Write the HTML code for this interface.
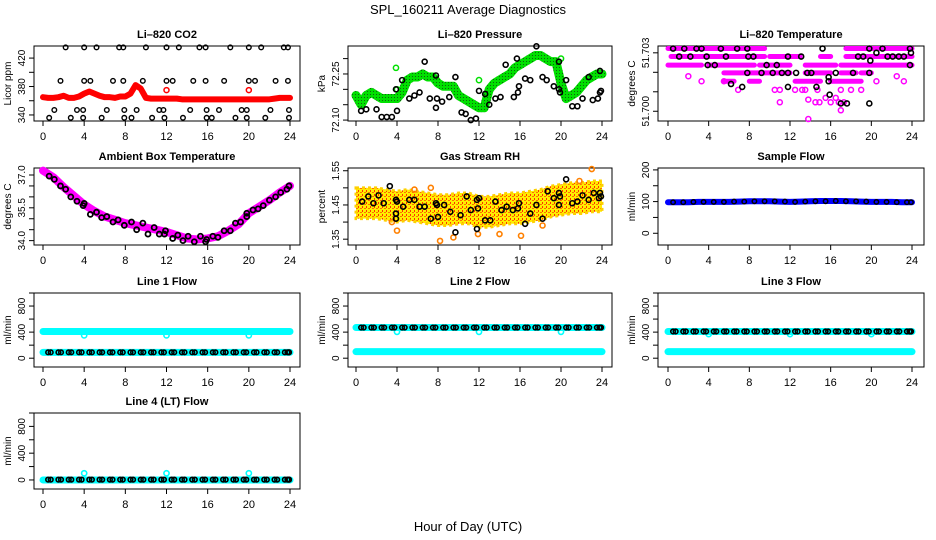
<!DOCTYPE html>
<html><head><meta charset="utf-8"><style>
body{margin:0;background:#fff}
svg{display:block;font-family:"Liberation Sans",sans-serif}
</style></head><body>
<svg id="chart" width="936" height="540" viewBox="0 0 936 540" xmlns="http://www.w3.org/2000/svg">
<defs>
<pattern id="grnDots" width="3" height="3" patternUnits="userSpaceOnUse"><rect width="3" height="3" fill="#00e000"/><rect x="1" y="1" width="1" height="1" fill="#106010"/></pattern>
<pattern id="rhDots" width="4" height="4" patternUnits="userSpaceOnUse"><rect width="4" height="4" fill="#ffee00"/><rect x="0" y="0" width="2" height="1" fill="#ff7000"/><rect x="2" y="2" width="1" height="2" fill="#ff3000"/></pattern>
</defs>
<text x="468" y="14" font-size="13" text-anchor="middle">SPL_160211  Average Diagnostics</text>
<text x="468" y="531" font-size="13" text-anchor="middle">Hour of Day (UTC)</text>
</svg>
<script>
// ---- data ----
const halfHours=[0,0.5,1,1.5,2,2.5,3,3.5,4,4.5,5,5.5,6,6.5,7,7.5,8,8.5,9,9.5,10,10.5,11,11.5,12,12.5,13,13.5,14,14.5,15,15.5,16,16.5,17,17.5,18,18.5,19,19.5,20,20.5,21,21.5,22,22.5,23,23.5,24];
const hours=[0,1,2,3,4,5,6,7,8,9,10,11,12,13,14,15,16,17,18,19,20,21,22,23,24];
const xTicks=[0,4,8,12,16,20,24];

const co2Red=[365,364,364,365,367,364,364,366,370,373,370,367,365,365,364,366,366,370,382,377,364,363,363,363,363,363,363,362,362,362,362,362,362,362,362,362,362,362,362,362,362,362,362,362,362,363,364,364,364];
const co2OutH=[12,20], co2OutV=[375,375];
const co2BlkH=[2.2,4,5.2,7.4,7.8,10,12,13.2,15.2,15.8,18.2,20,21.2,23.4,23.8, 1.7,4,4.6,6.8,7.8,9.7,12,12.6,14.6,15.8,17.6,20,20.6,22.6,23.8, 1.1,3.3,3.9,6.2,7.9,9.1,11.3,11.7,14.3,15.9,17.1,19.3,19.8,22.1,23.9, 0.6,2.7,3.9,5.7,7.9,8.6,10.6,11.8,13.6,15.9,16.4,18.7,19.8,21.6,23.9];
const co2BlkV=[435,435,435,435,435,435,435,435,435,435,435,435,435,435,435, 388,388,388,388,388,388,388,388,388,388,388,388,388,388,388, 347,347,347,347,347,347,347,347,347,347,347,347,347,347,347, 336,336,336,336,336,336,336,336,336,336,336,336,336,336,336];

const presGreen=[72.18,72.15,72.18,72.19,72.18,72.17,72.17,72.17,72.17,72.19,72.23,72.24,72.24,72.25,72.24,72.24,72.22,72.21,72.21,72.21,72.18,72.17,72.16,72.15,72.14,72.14,72.20,72.22,72.23,72.24,72.25,72.27,72.28,72.29,72.30,72.31,72.31,72.30,72.29,72.29,72.22,72.17,72.18,72.19,72.21,72.23,72.24,72.25,72.25];
const presOutH=[3.9,12,4,20]; const presOutV=[72.27,72.23,72.2,72.3];
const presBlkH=[0.5,1,2,2.5,3,3.5,4,3.9,4.5,5.2,5.7,6.2,6.7,7.2,7.8,7.9,7.8,8.4,9.1,9.7,10.3,10.7,11.2,11.7,12,12.6,13,13.6,14.1,14.6,15.4,15.8,15.9,15.7,16.5,17,17.6,18.2,18.6,19.3,19.8,19.9,19.8,20.5,21.1,21.6,22.1,22.7,23.1,23.6,23.8,23.9,23.8];
const presBlkV=[72.13,72.135,72.135,72.11,72.11,72.11,72.13,72.2,72.23,72.17,72.18,72.19,72.29,72.17,72.14,72.17,72.245,72.16,72.175,72.24,72.125,72.12,72.1,72.105,72.195,72.185,72.15,72.17,72.175,72.28,72.175,72.19,72.21,72.3,72.235,72.23,72.34,72.24,72.23,72.21,72.2,72.19,72.29,72.23,72.145,72.145,72.17,72.24,72.165,72.17,72.19,72.195,72.26];

const tempSegLevel=[51.70322,51.70322,51.70281,51.70281,51.70281,51.70281,51.70237,51.70237,51.70237,51.70237,51.70237,51.70197,51.70197,51.70197,51.70197,51.70154,51.70154,51.70154,51.70154];
const tempSegStart=[0,17.5,0.3,10,15,17.5,0,4,9,13.5,17,5.5,13.5,17,19,5.5,8,12.5,16];
const tempSegEnd=[9.5,24,9.5,13,16,24,3.3,8.5,12,16.5,24,12,16,18.5,20,6.5,9,15,19];
const tempMagH=[6.9,10.5,11,12.5,13.2,13.5,14.7,15.5,16,16.5,17,17.3,13.8,13.8,14.5,11,2,3.3,5.5,17,18,19,20.5,22.5,23.2,14.9,16.8];
const tempMagV=[51.7011,51.7011,51.7011,51.7011,51.7011,51.7011,51.7011,51.70069,51.70046,51.70069,51.70005,51.70046,51.6996,51.7006,51.70046,51.70046,51.7018,51.70154,51.70154,51.7011,51.7011,51.7011,51.70154,51.7018,51.70154,51.70046,51.70046];
const tempBlkH=[0.5,1.1,1.6,2.2,2.8,3.3,3.8,3.9,4.6,5.2,5.7,6.2,6.8,7.3,7.8,7.9,7.8,8.4,9.2,9.7,10.3,10.7,11.2,11.8,11.8,11.8,12.6,13.1,13.7,14.1,14.6,15.2,15.8,15.8,15.9,16.5,17,17.6,18.2,18.7,19.2,19.8,19.9,19.8,19.8,20.5,21.1,21.6,22.1,22.7,23.2,23.8,23.9,23.8];
const tempBlkV=[51.70322,51.70281,51.70322,51.70281,51.70322,51.70322,51.70281,51.70237,51.70237,51.70322,51.70281,51.7014,51.70322,51.70125,51.70322,51.70281,51.70197,51.70281,51.70197,51.70237,51.70197,51.70237,51.70197,51.70281,51.70197,51.70125,51.70197,51.70281,51.70197,51.70197,51.70125,51.70322,51.70175,51.70154,51.70085,51.70197,51.7004,51.7004,51.70197,51.70281,51.70281,51.70322,51.7026,51.70197,51.7004,51.703,51.70322,51.70281,51.70281,51.70281,51.70281,51.70322,51.703,51.70237];

const ambMag=[37.2,36.9,36.45,36.05,35.65,35.35,35.1,34.95,34.8,34.7,34.6,34.5,34.4,34.25,34.1,34.05,34.1,34.2,34.45,34.75,35.25,35.55,35.85,36.2,36.5];
const ambBlkH=[0.6,1.1,1.7,2.2,2.7,3.3,3.9,4.0,4.6,5.2,5.7,6.2,6.8,7.3,7.9,8.6,9.1,9.7,10.2,10.8,11.3,11.8,11.9,12.6,13.1,13.6,14.1,14.7,15.3,15.8,15.9,16.5,17.0,17.6,18.2,18.7,19.2,19.8,19.8,20.4,20.9,21.4,22.0,22.6,23.1,23.7,23.9];
const ambBlkV=[36.95,36.8,36.5,36.35,36.0,35.8,35.6,35.7,35.2,35.3,35.05,35.1,34.85,34.95,34.7,34.85,34.5,34.8,34.3,34.6,34.3,34.3,34.45,34.1,34.25,34.0,34.2,33.95,34.2,33.95,34.05,34.2,34.15,34.45,34.45,34.8,34.85,35.1,35.25,35.4,35.45,35.6,35.85,36.0,36.2,36.35,36.5];

const rhLow=[1.41,1.41,1.41,1.405,1.40,1.405,1.40,1.395,1.39,1.39,1.395,1.395,1.385,1.385,1.39,1.395,1.395,1.40,1.405,1.415,1.42,1.425,1.425,1.43,1.43];
const rhHigh=[1.50,1.50,1.50,1.495,1.49,1.495,1.49,1.485,1.48,1.48,1.485,1.485,1.475,1.475,1.48,1.485,1.485,1.49,1.495,1.505,1.51,1.515,1.515,1.52,1.52];
const rhOutH=[8.2,9.5,11.9,4.0,21.8,23.0,14.0,16.1,5.7,7.3,3.5,18.2];
const rhOutV=[1.345,1.355,1.365,1.375,1.52,1.555,1.365,1.36,1.495,1.50,1.40,1.39];
const rhBlkH=[0.6,1.2,1.7,2.2,2.7,3.3,3.9,3.9,3.9,4.0,4.6,5.2,5.7,6.2,6.7,7.3,7.8,7.9,8.0,8.6,9.2,9.7,10.2,10.8,11.2,11.8,11.9,11.8,12,12.6,13.1,13.6,14.2,14.7,15.3,15.8,15.9,16.5,17.0,17.6,18.2,18.7,19.3,19.8,19.8,19.9,20.5,21.1,21.6,22.1,22.7,23.2,23.7,23.8,23.9];
const rhBlkV=[1.46,1.475,1.455,1.478,1.455,1.505,1.41,1.425,1.465,1.46,1.445,1.465,1.465,1.445,1.445,1.41,1.455,1.45,1.415,1.45,1.43,1.37,1.42,1.475,1.435,1.38,1.44,1.465,1.47,1.405,1.405,1.46,1.435,1.445,1.435,1.44,1.455,1.395,1.425,1.45,1.41,1.49,1.47,1.485,1.45,1.475,1.525,1.455,1.46,1.478,1.465,1.485,1.47,1.485,1.475];

const sampleBlue=[98,98,98,99,99,99,99,100,101,101,101,100,99,100,101,102,102,102,101,100,99,99,99,98,98];
const sampleBlk=[98,98,99,99,99,99,100,100,101,101,101,100,99,100,101,101,102,101,101,100,99,99,98,98,98];

const l1Upper=[410,410,410,410,410,410,410,410,410,410,410,410,410,410,410,410,410,410,410,410,410,410,410,410,410];
const l1Lower=[90,90,90,90,90,90,90,90,90,90,90,90,90,90,90,90,90,90,90,90,90,90,90,90,90];
const l1Blk=[90,90,90,90,90,90,90,90,90,90,90,90,90,90,90,90,90,90,90,90,90,90,90,90,90];
const l1OutH=[4,12,20], l1OutV=[350,350,350];

const l2Upper=[470,470,470,470,470,470,470,470,470,470,470,470,470,470,470,470,470,470,470,470,470,470,470,470,470];
const l2Lower=[100,100,100,100,100,100,100,100,100,100,100,100,100,100,100,100,100,100,100,100,100,100,100,100,100];
const l2Blk=[470,470,470,470,470,470,470,470,470,470,470,470,470,470,470,470,470,470,470,470,470,470,470,470,470];
const l2OutH=[4,12,20], l2OutV=[405,405,405];

const l3Upper=[410,410,410,410,410,410,410,410,410,410,410,410,410,410,410,410,410,410,410,410,410,410,410,410,410];
const l3Lower=[100,100,100,100,100,100,100,100,100,100,100,100,100,100,100,100,100,100,100,100,100,100,100,100,100];
const l3Blk=[410,410,410,410,410,410,410,410,410,410,410,410,410,410,410,410,410,410,410,410,410,410,410,410,410];
const l3OutH=[4,12,20], l3OutV=[370,370,370];

const l4Cyan=[0,0,0,0,0,0,0,0,0,0,0,0,0,0,0,0,0,0,0,0,0,0,0,0,0];
const l4Blk=[5,5,5,5,5,5,5,5,5,5,5,5,5,5,5,5,5,5,5,5,5,5,5,5,5];
const l4OutH=[4,12,20], l4OutV=[100,100,100];

// ---- drawing ----
const NS='http://www.w3.org/2000/svg';
const svg=document.getElementById('chart');
function mk(tag,attrs,parent){const e=document.createElementNS(NS,tag);for(const k in attrs)e.setAttribute(k,attrs[k]);(parent||svg).appendChild(e);return e;}
const cols=[{l:34,r:300,x0:43,x24:290},{l:348,r:612,x0:356,x24:602},{l:658,r:924,x0:668,x24:912}];
const rows=[{t:46,b:121},{t:168,b:245},{t:293,b:367},{t:413,b:489}];
const flowRange=[-135,1000];
function panel(name,title,ylabel,c,r,ymin,ymax,yticks,ylabels){
  const C=cols[c],R=rows[r];
  const g=mk('g',{});
  
  
  const p={g,sx:h=>C.x0+(h/24)*(C.x24-C.x0),sy:v=>R.b-(v-ymin)/(ymax-ymin)*(R.b-R.t)};
  const box=mk('rect',{x:C.l,y:R.t,width:C.r-C.l,height:R.b-R.t,fill:'none',stroke:'#000','stroke-width':1},g);
  
  
  const t=mk('text',{x:(C.l+C.r)/2,y:R.t-8,'font-size':11,'font-weight':'bold','text-anchor':'middle'},g);t.textContent=title;
  
  
  xTicks.forEach(h=>{const x=p.sx(h);mk('line',{x1:x,x2:x,y1:R.b,y2:R.b+5,stroke:'#000'},g);
    const tx=mk('text',{x:x,y:R.b+19,'font-size':11,'text-anchor':'middle'},g);tx.textContent=h;
    
    });
  mk('line',{x1:p.sx(0),x2:p.sx(24),y1:R.b,y2:R.b,stroke:'#000'},g);
  yticks.forEach(v=>{const y=p.sy(v);mk('line',{x1:C.l,x2:C.l-5,y1:y,y2:y,stroke:'#000'},g);});
  ylabels.forEach(v=>{const y=p.sy(v);const tx=mk('text',{x:C.l-9,y:y,'font-size':10,'text-anchor':'middle',transform:`rotate(-90 ${C.l-9} ${y})`},g);tx.textContent=v;
    
    });
  const yl=mk('text',{x:C.l-23,y:(R.t+R.b)/2,'font-size':10,'text-anchor':'middle',transform:`rotate(-90 ${C.l-23} ${(R.t+R.b)/2})`},g);yl.textContent=ylabel;
  
  
  return p;
}
function pts(p,hs,vs,color,rad,sw,name){hs.forEach((h,i)=>{const c=mk('circle',{cx:p.sx(h),cy:p.sy(vs[i]),r:rad,fill:'none',stroke:color,'stroke-width':sw},p.g);
  
  });}
function band(p,hs,vs,color,w,name){const l=mk('polyline',{points:hs.map((h,i)=>p.sx(h)+','+p.sy(vs[i])).join(' '),fill:'none',stroke:color,'stroke-width':w,'stroke-linecap':'round','stroke-linejoin':'round'},p.g);
  
  }

// CO2
let p=panel('co2-panel','Li\u2013820 CO2','Licor ppm',0,0,331.5,437,[340,360,380,400,420],[340,380,420]);
band(p,halfHours,co2Red,'#ff0000',6,'co2-red-series');
pts(p,co2OutH,co2OutV,'#ff0000',2.5,1.5,'co2-red-outlier');
pts(p,co2BlkH,co2BlkV,'#000',2.3,1.4,'co2-black-point');
// Pressure
p=panel('pressure-panel','Li\u2013820 Pressure','kPa',1,0,72.097,72.341,[72.10,72.15,72.20,72.25,72.30],['72.10','72.25']);
band(p,halfHours,presGreen,'url(#grnDots)',9,'pressure-green-series');
pts(p,presOutH,presOutV,'#00e000',2.6,1.5,'pressure-green-outlier');
pts(p,presBlkH,presBlkV,'#000',2.5,1.6,'pressure-black-point');
// Temperature
p=panel('temperature-panel','Li\u2013820 Temperature','degrees C',2,0,51.6995,51.70335,[51.700,51.701,51.702,51.703],['51.700','51.703']);
tempSegLevel.forEach((v,i)=>{const l=mk('line',{x1:p.sx(tempSegStart[i]),x2:p.sx(tempSegEnd[i]),y1:p.sy(v),y2:p.sy(v),stroke:'#ff00ff','stroke-width':5,'stroke-linecap':'round'},p.g);
  
  });
pts(p,tempMagH,tempMagV,'#ff00ff',2.5,1.5,'temperature-magenta-point');
pts(p,tempBlkH,tempBlkV,'#000',2.5,1.6,'temperature-black-point');
// Ambient
p=panel('ambient-temperature-panel','Ambient Box Temperature','degrees C',0,1,33.8,37.32,[34.0,34.5,35.0,35.5,36.0,36.5,37.0],['34.0','35.5','37.0']);
band(p,hours,ambMag,'#ff00ff',8,'ambient-magenta-series');
pts(p,ambBlkH,ambBlkV,'#000',2.5,1.8,'ambient-black-point');
// RH
p=panel('gas-rh-panel','Gas Stream RH','percent',1,1,1.333,1.558,[1.35,1.40,1.45,1.50,1.55],['1.35','1.45','1.55']);
(function(){const poly=mk('polygon',{points:hours.map((h,i)=>p.sx(h)+','+p.sy(rhHigh[i])).concat(hours.slice().reverse().map((h,j)=>p.sx(h)+','+p.sy(rhLow[hours.length-1-j]))).join(' '),fill:'url(#rhDots)',stroke:'#ffd000','stroke-width':3,'stroke-dasharray':'3 3'},p.g);
  
  })();
pts(p,rhOutH,rhOutV,'#ff8000',2.5,1.6,'rh-orange-point');
pts(p,rhBlkH,rhBlkV,'#000',2.5,1.6,'rh-black-point');
// Sample flow
p=panel('sample-flow-panel','Sample Flow','ml/min',2,1,-37,206,[0,50,100,150,200],[0,100,200]);
band(p,hours,sampleBlue,'#0000ff',6,'sample-blue-series');
pts(p,hours.map(h=>Math.min(h+0.5,23.9)),sampleBlk,'#000',2.2,1.5,'sample-black-point');
// Line flows
function flowPanel(name,title,c,r,upper,lower,blk,oh,ov){
  const q=panel(name,title,'ml/min',c,r,flowRange[0],flowRange[1],[0,200,400,600,800,1000],[0,400,800]);
  if(upper)band(q,hours,upper,'#00ffff',7,'cyan-upper-series');
  band(q,hours,lower,'#00ffff',7,'cyan-lower-series');
  pts(q,oh,ov,'#00ffff',2.6,1.6,'cyan-outlier');
  pts(q,hours.map(h=>Math.min(h+0.5,23.9)),blk,'#000',2.3,1.6,'black-flow-point');
  pts(q,hours.map(h=>Math.min(h+0.75,23.9)),blk,'#000',2.3,1.6,'black-flow-point');
}
flowPanel('line1-flow-panel','Line 1 Flow',0,2,l1Upper,l1Lower,l1Blk,l1OutH,l1OutV);
flowPanel('line2-flow-panel','Line 2 Flow',1,2,l2Upper,l2Lower,l2Blk,l2OutH,l2OutV);
flowPanel('line3-flow-panel','Line 3 Flow',2,2,l3Upper,l3Lower,l3Blk,l3OutH,l3OutV);
flowPanel('line4-flow-panel','Line 4 (LT) Flow',0,3,null,l4Cyan,l4Blk,l4OutH,l4OutV);
</script>
</body></html>
